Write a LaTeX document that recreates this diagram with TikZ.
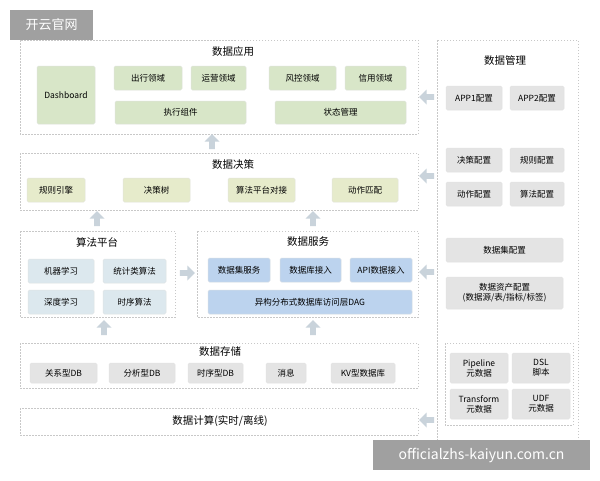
\documentclass[tikz,border=0pt]{standalone}
\usepackage{fontspec}
\setmainfont{Noto Sans CJK SC}
\usetikzlibrary{shapes.arrows}
\definecolor{frm}{HTML}{C8C8C8}
\definecolor{gfill}{HTML}{D8E6C8}
\definecolor{yfill}{HTML}{E6EBCB}
\definecolor{bfill}{HTML}{DCE8EE}
\definecolor{sfill}{HTML}{BCD3EE}
\definecolor{kfill}{HTML}{E4E4E4}
\definecolor{arr}{HTML}{C9D3DB}
\definecolor{wm}{HTML}{A0A0A0}
\begin{document}
\begin{tikzpicture}[x=1pt,y=-1pt,
  frame/.style={draw=frm,dashed,dash pattern=on 1.5pt off 1.5pt,line width=0.6pt},
  bx/.style={draw=#1!80!black!40,fill=#1,rounded corners=1.5pt,line width=0.5pt,font=\fontsize{8.5}{10}\selectfont,align=center},
  ttl/.style={font=\fontsize{10.5}{12}\selectfont},
  up/.style={single arrow,fill=arr,draw=none,minimum height=15pt,minimum width=15pt,single arrow head extend=2pt,inner sep=1pt,shape border rotate=90},
  lf/.style={up,shape border rotate=180},
  rt/.style={up,shape border rotate=0}]
\useasboundingbox[fill=white] (0,0) rectangle (600,480);
\newcommand\bb[6]{\node[bx=#1,minimum width=#4-#2,minimum height=#5-#3,inner sep=0pt] (#6) at ({(#2+#4)/2},{(#3+#5)/2})}
% frames
\draw[frame] (20,40) rectangle (418,134);
\draw[frame] (20,153) rectangle (418,210);
\draw[frame] (20,231) rectangle (175,317);
\draw[frame] (197,231) rectangle (418,317);
\draw[frame] (20,343) rectangle (418,388);
\draw[frame] (20,408) rectangle (418,435);
\draw[frame] (437,40) rectangle (578,440);
\draw[frame] (445,343) rectangle (573,425);
% titles
\node[ttl] (t1) at (233,52) {数据应用};
\node[ttl] (t2) at (233,165) {数据决策};
\node[ttl] (t3) at (97,242) {算法平台};
\node[ttl] (t4) at (308,242) {数据服务};
\node[ttl] (t5) at (220,352) {数据存储};
\node[ttl] (t6) at (220,421) {数据计算(实时/离线)};
\node[ttl] (t7) at (505,61) {数据管理};
% app
\bb{gfill}{37}{66}{95}{124}{a0}{Dashboard};
\bb{gfill}{114}{66}{182}{90}{a1}{出行领域};
\bb{gfill}{191}{66}{246}{90}{a2}{运营领域};
\bb{gfill}{269}{66}{336}{90}{a3}{风控领域};
\bb{gfill}{345}{66}{406}{90}{a4}{信用领域};
\bb{gfill}{115}{101}{246}{124}{a5}{执行组件};
\bb{gfill}{275}{101}{406}{124}{a6}{状态管理};
% decision
\bb{yfill}{27}{178}{85}{202}{d1}{规则引擎};
\bb{yfill}{123}{178}{190}{202}{d2}{决策树};
\bb{yfill}{228}{178}{295}{202}{d3}{算法平台对接};
\bb{yfill}{332}{178}{398}{202}{d4}{动作匹配};
% algo
\bb{bfill}{28}{259}{94}{283}{g1}{机器学习};
\bb{bfill}{103}{259}{166}{283}{g2}{统计类算法};
\bb{bfill}{28}{290}{94}{314}{g3}{深度学习};
\bb{bfill}{103}{290}{166}{314}{g4}{时序算法};
% service
\bb{sfill}{208}{258}{270}{282}{s1}{数据集服务};
\bb{sfill}{280}{258}{341}{282}{s2}{数据库接入};
\bb{sfill}{350}{258}{412}{282}{s3}{API数据接入};
\bb{sfill}{208}{290}{412}{314}{s4}{异构分布式数据库访问层DAG};
% storage
\bb{kfill}{30}{363}{97}{383}{k1}{关系型DB};
\bb{kfill}{109}{363}{175}{383}{k2}{分析型DB};
\bb{kfill}{188}{363}{243}{383}{k3}{时序型DB};
\bb{kfill}{266}{363}{306}{383}{k4}{消息};
\bb{kfill}{331}{363}{395}{383}{k5}{KV型数据库};
% management
\bb{kfill}{446}{86}{502}{110}{m1}{APP1配置};
\bb{kfill}{510}{86}{564}{110}{m2}{APP2配置};
\bb{kfill}{446}{148}{502}{172}{m3}{决策配置};
\bb{kfill}{510}{148}{564}{172}{m4}{规则配置};
\bb{kfill}{446}{182}{502}{206}{m5}{动作配置};
\bb{kfill}{510}{182}{564}{206}{m6}{算法配置};
\bb{kfill}{446}{238}{563}{262}{m7}{数据集配置};
\bb{kfill}{446}{277}{563}{309}{m8}{数据资产配置\\(数据源/表/指标/标签)};
\bb{kfill}{450}{353}{508}{383}{m9}{Pipeline\\元数据};
\bb{kfill}{512}{353}{570}{383}{m10}{DSL\\脚本};
\bb{kfill}{450}{389}{508}{419}{m11}{Transform\\元数据};
\bb{kfill}{512}{389}{570}{419}{m12}{UDF\\元数据};
% arrows
\node[up] (u1) at (212,143) {};
\node[up] (u2) at (97,220) {};
\node[up] (u3) at (313,220) {};
\node[up] (u4) at (104,329) {};
\node[up] (u5) at (313,329) {};
\node[rt] (r1) at (186,273) {};
\node[lf] (l1) at (428,97) {};
\node[lf] (l2) at (428,176) {};
\node[lf] (l3) at (428,272) {};
\node[lf] (l4) at (428,420) {};
% watermarks
\node[fill=wm,text=white,minimum width=83pt,minimum height=30pt,inner sep=0pt,font=\fontsize{13}{14}\selectfont] (w1) at (51.5,25) {开云官网};
\node[fill=wm,text=white,minimum width=217pt,minimum height=30pt,inner sep=0pt,font=\fontsize{14}{15}\selectfont] (w2) at (481.5,455) {officialzhs-kaiyun.com.cn};
\end{tikzpicture}
\end{document}
